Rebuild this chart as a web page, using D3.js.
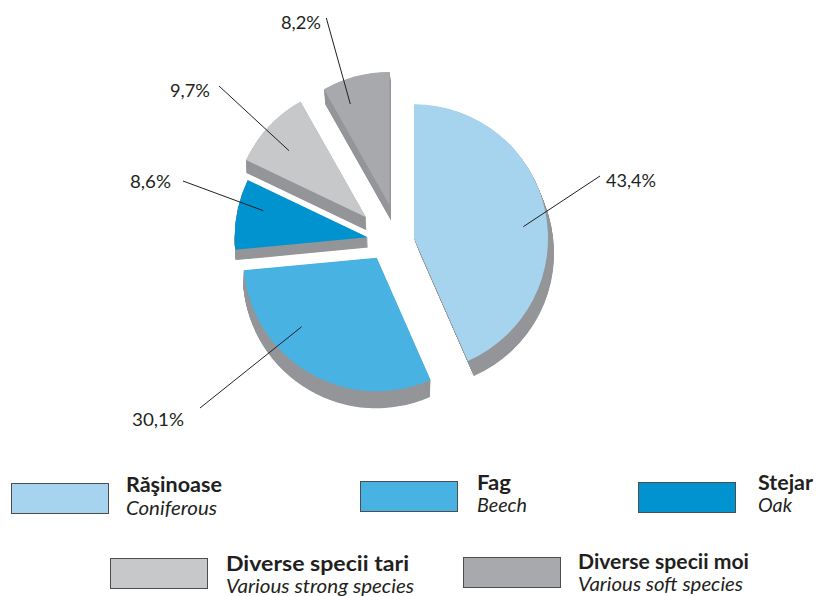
<!DOCTYPE html>
<html>
<head>
<meta charset="utf-8">
<script src="https://cdn.jsdelivr.net/npm/d3@7/dist/d3.min.js"></script>
<style>
html,body{margin:0;padding:0;background:#fff}
svg{display:block}
text{font-family:Lato,"Open Sans",sans-serif;fill:#231f20}
</style>
</head>
<body>
<svg id="c" width="816" height="596"></svg>
<script>
const categories = ["Răşinoase","Fag","Stejar","Diverse specii tari","Diverse specii moi"];
const translations = ["Coniferous","Beech","Oak","Various strong species","Various soft species"];
const shares = [43.4,30.1,8.6,9.7,8.2];
const shareLabels = ["43,4%","30,1%","8,6%","9,7%","8,2%"];
const colors = ["#a6d4ef","#48b3e3","#0093d0","#c6c8ca","#a7a9ac"];
const depthColor = "#939598";

// Layout: exploded slice apex, radius, extrusion vector, leader line, label, legend entry
const apexes = [[414,238.3],[376.7,257.7],[367.7,237.3],[366,217.3],[389.7,205.5]];
const radii = [134,133.5,133,133,133.5];
const depths = [[6,15],[-0.5,17],[0.4,10.3],[0.3,13],[1.3,15]];
const leaders = [[[523.3,226.7],[600,176]],[[301.7,326.7],[200,408]],[[263.3,210.7],[183,181]],[[289,150.7],[219,86]],[[350.3,104],[326.3,18]]];
const labelPos = [[606,187,50],[132,426,52],[130,188,41],[170,97,40],[281,29,40]];
const swatches = [[11,483],[360,481],[638,482],[110,558],[463,557]];
const legendText = [[126,492,515,96,91],[477,490,512,34,50],[758,490,512,55,34],[226,571,593,183,188],[578,569,591,171,165]];

const svg = d3.select("#c");
const pie = d3.pie().sort(null).value(d=>d);
const arcs = pie(shares);
const arc = d3.arc().innerRadius(0).outerRadius((d,i)=>radii[d.index]);

const slices = svg.selectAll("g.slice").data(arcs).join("g")
  .attr("class","slice")
  .attr("transform",(d,i)=>`translate(${apexes[i][0]},${apexes[i][1]})`);

// extrusion: the same wedge swept along the slice's depth vector
slices.each(function(d,i){
  const g = d3.select(this);
  const [dx,dy] = depths[i];
  const n = Math.ceil(Math.hypot(dx,dy)*2);
  g.selectAll("path.depth").data(d3.range(1,n+1)).join("path")
    .attr("class","depth")
    .attr("d",arc(d))
    .attr("fill",depthColor)
    .attr("transform",k=>`translate(${dx*k/n},${dy*k/n})`);
});
slices.append("path").attr("d",d=>arc(d)).attr("fill",(d,i)=>colors[i]);

svg.selectAll("line.leader").data(leaders).join("line")
  .attr("class","leader")
  .attr("x1",d=>d[0][0]).attr("y1",d=>d[0][1])
  .attr("x2",d=>d[1][0]).attr("y2",d=>d[1][1])
  .attr("stroke","#231f20").attr("stroke-width",1);

svg.selectAll("text.share").data(shareLabels).join("text")
  .attr("class","share")
  .attr("x",(d,i)=>labelPos[i][0]).attr("y",(d,i)=>labelPos[i][1])
  .attr("textLength",(d,i)=>labelPos[i][2]).attr("lengthAdjust","spacingAndGlyphs")
  .attr("font-size",18).text(d=>d);

svg.selectAll("rect.swatch").data(categories).join("rect")
  .attr("class","swatch")
  .attr("x",(d,i)=>swatches[i][0]+.5).attr("y",(d,i)=>swatches[i][1]+.5)
  .attr("width",97).attr("height",30)
  .attr("fill",(d,i)=>colors[i]).attr("stroke","#4d4d4f").attr("stroke-width",1);

svg.selectAll("text.cat").data(categories).join("text")
  .attr("class","cat")
  .attr("x",(d,i)=>legendText[i][0]).attr("y",(d,i)=>legendText[i][1])
  .attr("textLength",(d,i)=>legendText[i][3]).attr("lengthAdjust","spacingAndGlyphs")
  .attr("font-size",20).attr("font-weight",700).text(d=>d);

svg.selectAll("text.tr").data(translations).join("text")
  .attr("class","tr")
  .attr("x",(d,i)=>legendText[i][0]).attr("y",(d,i)=>legendText[i][2])
  .attr("textLength",(d,i)=>legendText[i][4]).attr("lengthAdjust","spacingAndGlyphs")
  .attr("font-size",20).attr("font-style","italic").text(d=>d);
</script>
</body>
</html>
